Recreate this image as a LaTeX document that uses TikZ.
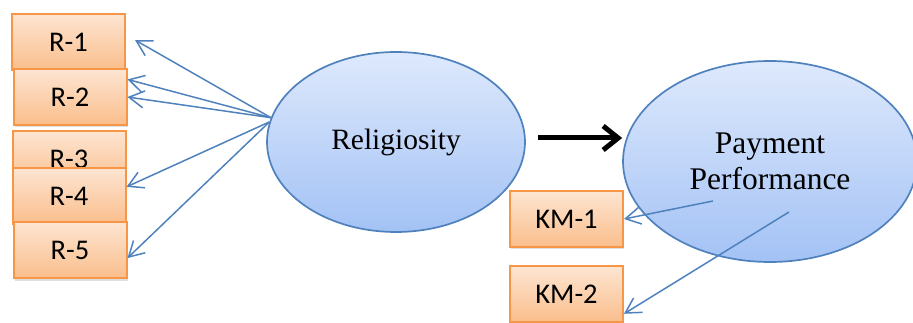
\documentclass[tikz,border=0pt]{standalone}
\usepackage{fontspec}
\setmainfont{Liberation Serif}
\newfontfamily\boxfont{Carlito}
\usetikzlibrary{shapes.geometric,arrows.meta,shadows}

\definecolor{boxline}{RGB}{247,150,70}
\definecolor{boxtop}{RGB}{253,229,210}
\definecolor{boxbot}{RGB}{250,190,140}
\definecolor{ovline}{RGB}{79,129,189}
\definecolor{ovtop}{RGB}{222,233,252}
\definecolor{ovbot}{RGB}{163,194,245}

\tikzset{
  itembox/.style={draw=boxline, line width=2pt, top color=boxtop, bottom color=boxbot,
    minimum width=113pt, minimum height=56pt, inner sep=0pt,
    font=\boxfont\fontsize{28.5}{32}\selectfont,
    drop shadow={opacity=0.25, shadow xshift=1pt, shadow yshift=-2.5pt}},
  factor/.style={ellipse, draw=ovline, line width=1.7pt, top color=ovtop, bottom color=ovbot,
    inner sep=0pt, align=center},
  load/.style={ovline, line width=1.5pt, -{Straight Barb[length=15pt,width=17pt]}},
  cause/.style={black, line width=5pt, -{Straight Barb[length=15pt,width=24pt]}}
}

\begin{document}
\begin{tikzpicture}[x=1pt,y=-1pt]
\useasboundingbox (0,0) rectangle (913,323);

% the two latent variables
\node[factor, minimum width=258pt, minimum height=180pt,
      font=\fontsize{29.5}{34}\selectfont] (relig) at (396,142) {Religiosity};
\node[factor, minimum width=294pt, minimum height=201pt,
      font=\fontsize{31.5}{36}\selectfont] (pay) at (770,161.5) {Payment\\Performance};

% indicator boxes
\foreach \n/\x/\y in {1/68.5/42, 2/70/97, 3/69/159, 4/69/196, 5/70/250}
  \node[itembox] (r\n) at (\x,\y) {R-\n};
\node[itembox] (km1) at (566.5,219) {KM-1};
\node[itembox] (km2) at (566.5,294) {KM-2};

% free ends
\coordinate (t1) at (135,40);
\coordinate (p1) at (713,201);
\coordinate (p2) at (789,212);
\coordinate (c1) at ([shift={(12,-4)}]relig.east);

% loadings
\draw[load] (relig.169) -- (t1);
\draw[load] (relig.169) -- (r2.17);
\draw[load] (relig.169) -- (r2.east);
\draw[load] (relig.171) -- (r4.9);
\draw[load] (relig.171) -- (r5.-8);
\draw[load] (p1) -- (km1.east);
\draw[load] (p2) -- (km2.-19);

% path
\draw[cause] (c1) -- (c1 -| pay.west);
\end{tikzpicture}
\end{document}
